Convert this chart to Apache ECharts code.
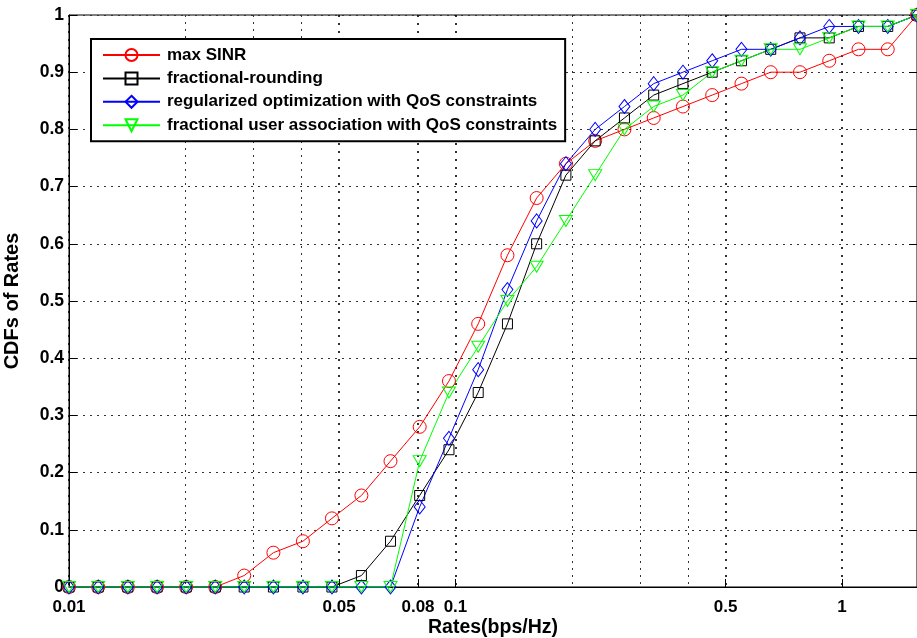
<!DOCTYPE html>
<html>
<head>
<meta charset="utf-8">
<script src="https://cdn.jsdelivr.net/npm/echarts@6/dist/echarts.min.js"></script>
<style>
  html, body { margin: 0; padding: 0; background: #fff; }
  #chart { width: 917px; height: 638px; }
</style>
</head>
<body>
<div id="chart"></div>
<script>
// Rates (bps/Hz) at which each CDF was sampled: 30 log-spaced points.
const RATES = [
  0.0100, 0.0119, 0.0142, 0.0169, 0.0201, 0.0239, 0.0284, 0.0338, 0.0403, 0.0479,
  0.0571, 0.0679, 0.0808, 0.0962, 0.1145, 0.1363, 0.1622, 0.1931, 0.2299, 0.2737,
  0.3258, 0.3878, 0.4617, 0.5496, 0.6543, 0.7789, 0.9272, 1.1037, 1.3139, 1.5641,
];

const MAX_SINR = [
  0, 0, 0, 0, 0, 0, 0.02, 0.06, 0.08, 0.12,
  0.16, 0.22, 0.28, 0.36, 0.46, 0.58, 0.68, 0.74, 0.78, 0.80,
  0.82, 0.84, 0.86, 0.88, 0.90, 0.90, 0.92, 0.94, 0.94, 1.00,
];
const FRACTIONAL_ROUNDING = [
  0, 0, 0, 0, 0, 0, 0, 0, 0, 0,
  0.02, 0.08, 0.16, 0.24, 0.34, 0.46, 0.60, 0.72, 0.78, 0.82,
  0.86, 0.88, 0.90, 0.92, 0.94, 0.96, 0.96, 0.98, 0.98, 1.00,
];
const REGULARIZED_QOS = [
  0, 0, 0, 0, 0, 0, 0, 0, 0, 0,
  0, 0, 0.14, 0.26, 0.38, 0.52, 0.64, 0.74, 0.80, 0.84,
  0.88, 0.90, 0.92, 0.94, 0.94, 0.96, 0.98, 0.98, 0.98, 1.00,
];
const FRACTIONAL_ASSOC_QOS = [
  0, 0, 0, 0, 0, 0, 0, 0, 0, 0,
  0, 0, 0.22, 0.34, 0.42, 0.50, 0.56, 0.64, 0.72, 0.80,
  0.84, 0.86, 0.90, 0.92, 0.94, 0.94, 0.96, 0.98, 0.98, 1.00,
];

const SERIES_NAMES = [
  "max SINR",
  "fractional-rounding",
  "regularized optimization with QoS constraints",
  "fractional user association with QoS constraints",
];

// Labelled x ticks (MATLAB XTick) and the extra unlabelled grid lines.
const X_LABEL_TICKS = [0.01, 0.05, 0.08, 0.1, 0.5, 1];
const X_MINOR_GRID = [0.02, 0.03, 0.04, 0.2, 0.3, 0.4];
const X_MIN = 0.01;
const X_MAX = 1.5641;

const FONT = '"Liberation Sans", Arial, Helvetica, sans-serif';
const TEXT = { fontFamily: FONT, fontWeight: "bold", fontSize: 17, color: "#000" };

const TRIANGLE_DOWN = "path://M0,0L12,0L6,10Z";

function cdfSeries(name, values, color, symbol, symbolSize) {
  return {
    name,
    type: "line",
    data: RATES.map((r, i) => [r, values[i]]),
    symbol,
    symbolSize,
    showAllSymbol: true,
    clip: false,
    lineStyle: { color, width: 1 },
    // hollow markers, as MATLAB draws them
    itemStyle: { color: "rgba(0,0,0,0)", borderColor: color, borderWidth: 1 },
    emphasis: { disabled: true },
  };
}

const logAxis = {
  type: "log",
  logBase: 10,
  min: X_MIN,
  max: X_MAX,
  gridIndex: 0,
};

const option = {
  animation: false,
  backgroundColor: "#fff",
  grid: {
    left: 69, right: 0, top: 15, bottom: 51,
    // v6 would otherwise shrink the plot to keep the axis names inside the canvas
    outerBoundsMode: "none",
    show: true, borderColor: "#000", borderWidth: 1, backgroundColor: "#fff",
  },
  legend: {
    orient: "vertical",
    left: 91,
    top: 39,
    padding: [6, 8, 6, 11],
    itemWidth: 57,
    itemHeight: 15,
    itemGap: 3.4,
    selectedMode: false,
    backgroundColor: "#fff",
    borderColor: "#000",
    borderWidth: 2,
    borderRadius: 0,
    textStyle: { ...TEXT, lineHeight: 20, padding: [0, 0, 0, 2] },
    data: SERIES_NAMES,
  },
  xAxis: [
    {
      ...logAxis,
      position: "bottom",
      axisLine: { show: true, lineStyle: { color: "#000", width: 1 } },
      axisTick: { show: true, inside: true, length: 8, customValues: X_LABEL_TICKS,
                  lineStyle: { color: "#000" } },
      axisLabel: { ...TEXT, margin: 12, customValues: X_LABEL_TICKS, formatter: (v) => String(v) },
      splitLine: { show: true, lineStyle: { color: "#000", width: 1.6, type: [2, 6] } },
      name: "Rates(bps/Hz)",
      nameLocation: "middle",
      nameGap: 31,
      nameMoveOverlap: false,
      nameTextStyle: { ...TEXT, fontSize: 19.5 },
    },
    {
      ...logAxis,
      position: "bottom",
      axisLine: { show: false },
      axisTick: { show: false, customValues: X_MINOR_GRID },
      axisLabel: { show: false, customValues: X_MINOR_GRID },
      splitLine: { show: true, lineStyle: { color: "#333", width: 1, type: [2, 5] } },
    },
  ],
  yAxis: [
    {
      type: "value",
      min: 0,
      max: 1,
      interval: 0.1,
      axisLine: { show: true, lineStyle: { color: "#000", width: 1 } },
      axisTick: { show: true, inside: true, length: 8, lineStyle: { color: "#000" } },
      axisLabel: { ...TEXT, fontSize: 17.5, margin: 5 },
      splitLine: { show: true, lineStyle: { color: "#333", width: 1, type: [2, 5] } },
      name: "CDFs of Rates",
      nameLocation: "middle",
      nameGap: 47,
      nameMoveOverlap: false,
      nameTextStyle: { ...TEXT, fontSize: 20 },
    },
    {
      type: "value",
      position: "right",
      min: 0,
      max: 1,
      interval: 0.1,
      axisLine: { show: true, lineStyle: { color: "#000", width: 1 } },
      axisTick: { show: true, inside: true, length: 8, lineStyle: { color: "#000" } },
      axisLabel: { show: false },
      splitLine: { show: false },
    },
  ],
  series: [
    cdfSeries(SERIES_NAMES[0], MAX_SINR, "#ff0000", "circle", 13),
    cdfSeries(SERIES_NAMES[1], FRACTIONAL_ROUNDING, "#000000", "rect", 10),
    cdfSeries(SERIES_NAMES[2], REGULARIZED_QOS, "#0000ff", "diamond", [11, 14]),
    cdfSeries(SERIES_NAMES[3], FRACTIONAL_ASSOC_QOS, "#00ff00", TRIANGLE_DOWN, [13, 11]),
  ],
};

const chart = echarts.init(document.getElementById("chart"));
chart.setOption(option);
</script>
</body>
</html>
